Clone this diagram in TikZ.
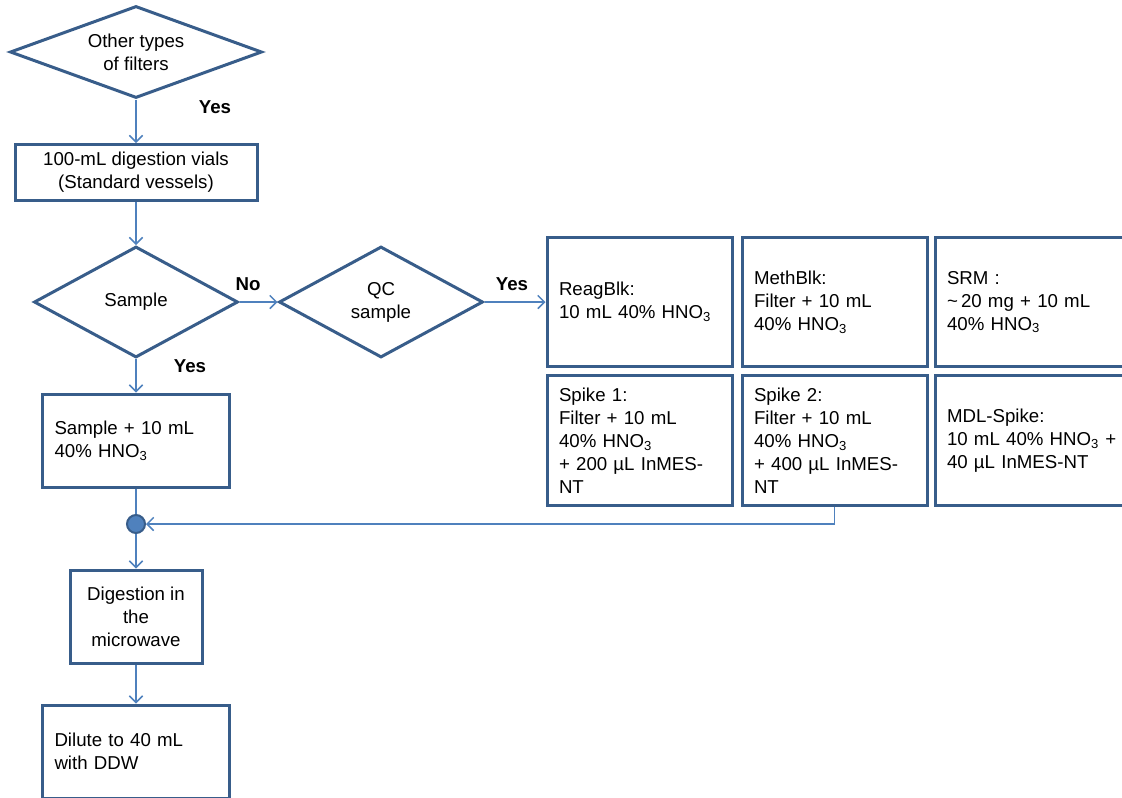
\documentclass[tikz,border=0pt]{standalone}
\usepackage{fontspec}
\setmainfont{Liberation Sans}
\usetikzlibrary{shapes.geometric,arrows.meta}
\definecolor{bordc}{HTML}{385D8A}
\definecolor{linkc}{HTML}{4F81BD}
\begin{document}
\begin{tikzpicture}[x=0.75pt,y=-0.75pt,
  font=\fontsize{14}{17.25}\selectfont,
  box/.style={draw=bordc, line width=2.25pt, rectangle, inner ysep=0pt},
  cbox/.style={box, align=center, inner xsep=0pt},
  lbox/.style={box, align=left, inner xsep=9pt},
  dec/.style={draw=bordc, line width=2.25pt, shape=diamond, inner sep=0pt, align=center},
  link/.style={draw=linkc, line width=1.1pt, -{Straight Barb[length=5pt,width=10pt]}},
  plain/.style={draw=linkc, line width=1.1pt},
  lab/.style={font=\fontsize{14}{17.25}\selectfont\bfseries, inner sep=0pt},
  dot/.style={circle, fill=linkc, draw=bordc, line width=1.5pt, minimum size=13.5pt, inner sep=0pt}]
\useasboundingbox (0,0) rectangle (1122,797);
\clip (0,0) rectangle (1122,797);

% decisions
\node[dec, aspect=2.74, minimum width=252*0.75pt, minimum height=92*0.75pt] (d1) at (136,52) {Other types\\of filters};
\node[dec, aspect=1.84, minimum width=204*0.75pt, minimum height=111*0.75pt] (samp) at (136,302) {Sample};
\node[dec, aspect=1.84, minimum width=204*0.75pt, minimum height=111*0.75pt] (qc) at (381,302) {QC\\sample};

% left column boxes
\node[cbox, minimum width=242*0.75pt, minimum height=56*0.75pt] (vials) at (136,172.5) {100-mL digestion vials\\(Standard vessels)};
\node[lbox, text width=(187-24)*0.75pt, minimum width=187*0.75pt, minimum height=93*0.75pt] (sbox) at (136,440.5) {Sample + 10 mL\\40\% HNO\textsubscript{3}};
\node[dot] (join) at (136,524) {};
\node[cbox, minimum width=132*0.75pt, minimum height=93*0.75pt] (dig) at (136,616.5) {Digestion in\\the\\microwave};
\node[lbox, text width=(187-24)*0.75pt, minimum width=187*0.75pt, minimum height=93*0.75pt] (dil) at (136,751.5) {Dilute to 40 mL\\with DDW};

% QC grid
\node[lbox, text width=(185-24)*0.75pt, minimum width=185*0.75pt, minimum height=129*0.75pt] (reag) at (639.5,302) {ReagBlk:\\10 mL 40\% HNO\textsubscript{3}};
\node[lbox, text width=(185-24)*0.75pt, minimum width=185*0.75pt, minimum height=129*0.75pt] (meth) at (834.5,302) {MethBlk:\\Filter + 10 mL\\40\% HNO\textsubscript{3}};
\node[lbox, text width=(205-24)*0.75pt, minimum width=205*0.75pt, minimum height=129*0.75pt] (srm) at (1037.5,302) {SRM :\\\textasciitilde\,20 mg + 10 mL\\40\% HNO\textsubscript{3}};
\node[lbox, text width=(185-24)*0.75pt, minimum width=185*0.75pt, minimum height=130*0.75pt] (sp1) at (639.5,440.5) {Spike 1:\\Filter + 10 mL\\40\% HNO\textsubscript{3}\\+ 200 µL InMES-\\NT};
\node[lbox, text width=(185-24)*0.75pt, minimum width=185*0.75pt, minimum height=130*0.75pt] (sp2) at (834.5,440.5) {Spike 2:\\Filter + 10 mL\\40\% HNO\textsubscript{3}\\+ 400 µL InMES-\\NT};
\node[lbox, text width=(205-24)*0.75pt, minimum width=205*0.75pt, minimum height=130*0.75pt] (mdl) at (1037.5,440.5) {MDL-Spike:\\10 mL 40\% HNO\textsubscript{3} +\\40 µL InMES-NT};

% labels
\node[lab] (y1) at (215,107) {Yes};
\node[lab] (no) at (248,284) {No};
\node[lab] (y2) at (512,284) {Yes};
\node[lab] (y3) at (190,366) {Yes};

% connectors
\draw[link] (d1.south) -- (vials.north);
\draw[link] (vials.south) -- (samp.north);
\draw[link] (samp.east) -- (qc.west);
\draw[link] (qc.east) -- (reag.west);
\draw[link] (samp.south) -- (sbox.north);
\draw[plain] (sbox.south) -- (join.north);
\draw[link] (join.south) -- (dig.north);
\draw[link] (dig.south) -- (dil.north);
\draw[link] (sp2.south) |- (join.east);
\end{tikzpicture}
\end{document}
